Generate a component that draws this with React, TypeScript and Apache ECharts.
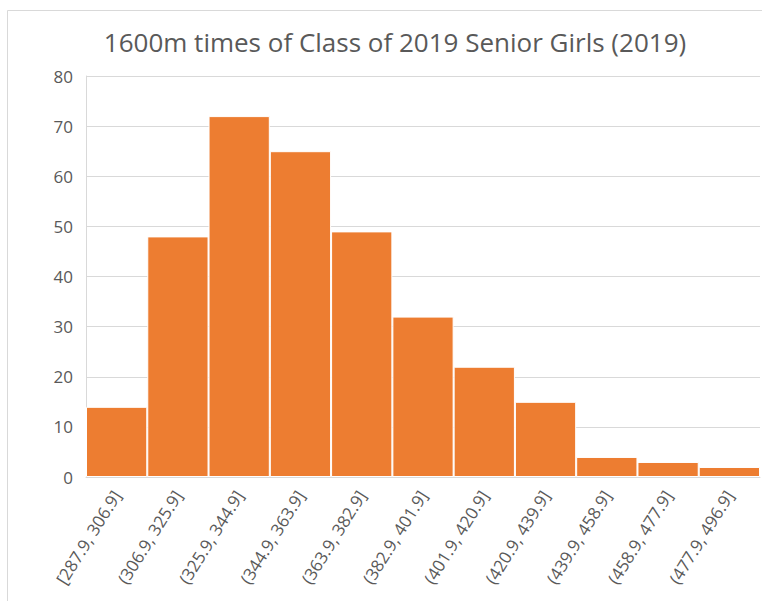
import React, { useEffect, useRef } from "react";
import * as echarts from "echarts";

const categories = [
  "[287.9, 306.9]",
  "(306.9, 325.9]",
  "(325.9, 344.9]",
  "(344.9, 363.9]",
  "(363.9, 382.9]",
  "(382.9, 401.9]",
  "(401.9, 420.9]",
  "(420.9, 439.9]",
  "(439.9, 458.9]",
  "(458.9, 477.9]",
  "(477.9, 496.9]",
];
const counts = [14, 48, 72, 65, 49, 32, 22, 15, 4, 3, 2];
const titleText = "1600m times of Class of 2019 Senior Girls (2019)";

export default function App() {
  const ref = useRef<HTMLDivElement>(null);
  useEffect(() => {
    if (!ref.current) return;
    const chart = echarts.init(ref.current, null, { renderer: "svg" });
    chart.setOption({
      animation: false,
      backgroundColor: "#ffffff",
      title: {
        text: titleText,
        left: 390,
        top: 24,
        textAlign: "center",
        textStyle: {
          fontFamily: "'Open Sans', sans-serif",
          fontSize: 26,
          fontWeight: "normal",
          color: "#595959",
        },
      },
      graphic: [
        {
          type: "rect",
          shape: { x: 7.5, y: 10.5, width: 800, height: 700 },
          style: { fill: "none", stroke: "#d9d9d9", lineWidth: 1 },
          silent: true,
        },
      ],
      grid: { left: 86, right: 2, top: 76, bottom: 124 },
      xAxis: {
        type: "category",
        data: categories,
        axisLine: { lineStyle: { color: "#d9d9d9" } },
        axisTick: { show: false },
        axisLabel: {
          rotate: 58,
          interval: 0,
          color: "#595959",
          fontSize: 17,
          fontFamily: "'Open Sans', sans-serif",
          margin: 15,
        },
      },
      yAxis: {
        type: "value",
        min: 0,
        max: 80,
        interval: 10,
        axisLine: { show: true, lineStyle: { color: "#d9d9d9" } },
        axisTick: { show: false },
        splitLine: { lineStyle: { color: "#d9d9d9" } },
        axisLabel: {
          color: "#595959",
          fontSize: 17,
          fontFamily: "'Open Sans', sans-serif",
          margin: 13,
        },
      },
      series: [
        {
          type: "bar",
          data: counts,
          barCategoryGap: "0%",
          itemStyle: { color: "#ED7D31", borderColor: "#ffffff", borderWidth: 1 },
        },
      ],
    });
    return () => chart.dispose();
  }, []);
  return (
    <div
      ref={ref}
      style={{ position: "fixed", left: 0, top: 0, width: 762, height: 601 }}
    />
  );
}
